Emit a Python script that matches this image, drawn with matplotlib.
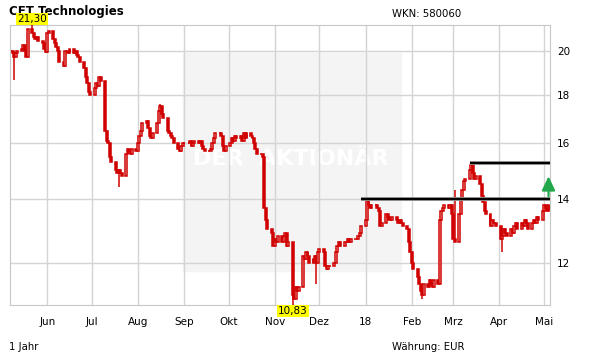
import matplotlib
matplotlib.use('Agg')
import matplotlib.pyplot as plt
import matplotlib.dates as mdates
from matplotlib.patches import Rectangle
from matplotlib.ticker import FixedLocator, NullLocator
import numpy as np
import pandas as pd

# daily closes, one row per week (Mon..Fri), 08.05.2017 - 04.05.2018
closes = [
    20.0, 19.9, 19.7, 19.9, 20.0,
    20.1, 20.3, 20.0, 19.7, 21.1,
    20.9, 20.7, 20.6, 20.7, 20.5,
    20.4, 20.1, 19.95, 20.9, 21.0,
    20.6, 20.4, 20.2, 20.0, 19.5,
    19.3, 20.0, 20.0, 19.9, 20.1,
    19.9, 20.0, 19.8, 19.7, 19.5,
    19.2, 18.8, 18.5, 18.1, 18.0,
    18.3, 18.5, 18.4, 18.8, 18.6,
    16.5, 16.1, 16.0, 15.5, 15.3,
    15.0, 14.9, 15.0, 14.9, 14.8,
    15.6, 15.8, 15.7, 15.6, 15.8,
    15.7, 16.0, 16.3, 16.5, 16.8,
    16.9, 16.6, 16.3, 16.2, 16.4,
    16.8, 17.3, 17.5, 17.2, 17.0,
    16.5, 16.4, 16.3, 16.2, 16.0,
    15.8, 15.7, 15.9, 16.0, 16.0,
    16.0, 16.1, 15.9, 16.0, 16.1,
    16.0, 16.1, 15.9, 15.8, 15.7,
    15.7, 15.8, 16.0, 16.2, 16.4,
    16.4, 16.3, 15.9, 15.7, 15.9,
    16.0, 16.2, 16.1, 16.3, 16.2,
    16.3, 16.1, 16.4, 16.2, 16.4,
    16.3, 16.2, 16.0, 15.8, 15.6,
    15.6, 15.5, 13.7, 13.3, 13.0,
    12.9, 12.5, 12.7, 12.6, 12.8,
    12.6, 12.8, 12.9, 12.5, 12.6,
    11.1, 11.0, 11.3, 11.2, 11.3,
    12.2, 12.1, 12.3, 12.2, 12.0,
    12.1, 12.2, 12.0, 12.3, 12.4,
    12.3, 11.9, 11.8, 11.9, 11.9,
    12.0, 12.3, 12.5, 12.6, 12.5,
    12.6, 12.6, 12.7, 12.6, 12.7,
    12.7, 12.7, 12.8, 12.9, 13.1,
    13.3, 14.0, 13.8, 13.7, 13.8,
    13.8, 13.7, 13.6, 13.1, 13.2,
    13.5, 13.4, 13.3, 13.3, 13.4,
    13.3, 13.2, 13.3, 13.2, 13.1,
    13.0, 12.6, 12.3, 12.0, 11.8,
    11.6, 11.4, 11.2, 11.1, 11.4,
    11.3, 11.5, 11.4, 11.3, 11.5,
    11.4, 13.3, 13.6, 13.7, 13.8,
    13.7, 13.8, 13.5, 12.7, 12.6,
    13.5, 14.0, 14.3, 14.6, 14.7,
    15.0, 15.2, 14.9, 14.7, 14.8,
    14.5, 14.1, 13.9, 13.6, 13.5,
    13.1, 13.3, 13.2, 13.2, 13.1,
    12.7, 12.8, 13.0, 12.9, 12.8,
    13.0, 12.9, 13.1, 13.2, 13.0,
    13.2, 13.1, 13.3, 13.2, 13.0,
    13.2, 13.3, 13.2, 13.4, 13.3,
    13.6, 13.8, 13.7, 13.6, 13.8,
]
dates = pd.bdate_range('2017-05-08', '2018-05-04')

# long wicks (date: (low, high))
wicks = {
    '2017-05-10': (18.65, None),
    '2017-05-22': (None, 21.30),
    '2017-07-19': (14.4, None),
    '2017-08-16': (None, 17.6),
    '2017-11-13': (10.83, None),
    '2017-11-29': (11.4, None),
    '2018-02-08': (11.0, None),
    '2018-02-20': (12.0, None),
    '2018-03-02': (None, 14.3),
    '2018-03-13': (None, 15.3),
    '2018-04-03': (12.3, None),
}

resist = [(14.0, '2017-12-29'), (15.25, '2018-03-12')]
months = ['2017-06-01', '2017-07-01', '2017-08-01', '2017-09-01', '2017-10-01', '2017-11-01',
          '2017-12-01', '2018-01-01', '2018-02-01', '2018-03-01', '2018-04-01', '2018-05-01']
month_labels = ['Jun', 'Jul', 'Aug', 'Sep', 'Okt', 'Nov', 'Dez', '18', 'Feb', 'Mrz', 'Apr', 'Mai']
yticks = [12, 14, 16, 18, 20]

c = np.array(closes)
o = np.array([closes[0]] + closes[:-1])
hi = np.maximum(o, c)
lo = np.minimum(o, c)
for d, (l, h) in wicks.items():
    i = dates.get_loc(pd.Timestamp(d))
    if l is not None:
        lo[i] = l
    if h is not None:
        hi[i] = h

red = '#d00000'
fig = plt.figure(figsize=(6.11, 3.64), dpi=100)
ax = fig.add_axes([10/611, 59/364, 540/611, 280/364])

x = mdates.date2num(dates)
ax.add_patch(Rectangle((0.3204, 0.1214), 0.404, 0.7786, transform=ax.transAxes,
                       color='#f4f4f4', zorder=0.2))
ax.text(0.5204, 0.52, 'DER  AKTIONÄR', transform=ax.transAxes, color='white',
        fontsize=16, fontweight='bold', ha='center', va='center', zorder=0.3)

ax.vlines(x, lo, hi, color=red, lw=1.1, zorder=3)
up = c >= o
ax.bar(x, np.abs(c - o), bottom=np.minimum(o, c), width=1.3,
       color=np.where(up, 'white', red), edgecolor=red, linewidth=1.1, zorder=4)

ax.set_yscale('log')
ax.set_ylim(lo.min(), hi.max())
ax.set_xlim(mdates.date2num(pd.Timestamp('2017-05-07')), mdates.date2num(pd.Timestamp('2018-05-05')))

right = ax.get_xlim()[1]
for lvl, start in resist:
    s = mdates.date2num(pd.Timestamp(start))
    ax.plot([s, right], [lvl, lvl], color='#909090', lw=2.8, zorder=5, solid_capstyle='butt')
    ax.plot([s, right], [lvl, lvl], color='black', lw=1.5, zorder=6, solid_capstyle='butt')

ax.annotate('', xy=(x[-1], 14.78), xytext=(x[-1], 14.08),
            arrowprops=dict(arrowstyle='-|>,head_length=0.42,head_width=0.2', color='#22a84a',
                            lw=1.6, mutation_scale=20, shrinkA=0, shrinkB=0), zorder=7)

imax = int(np.argmax(hi))
imin = int(np.argmin(lo))
ax.annotate(f'{hi[imax]:.2f}'.replace('.', ','), xy=(x[imax], 1), xycoords=('data', 'axes fraction'),
            xytext=(0, 1), textcoords='offset points', ha='center', va='bottom', fontsize=7.5,
            bbox=dict(boxstyle='square,pad=0.1', fc='#ffff00', ec='none'), annotation_clip=False, zorder=8)
ax.annotate(f'{lo[imin]:.2f}'.replace('.', ','), xy=(x[imin], 0), xycoords=('data', 'axes fraction'),
            xytext=(0, -1), textcoords='offset points', ha='center', va='top', fontsize=7.5,
            bbox=dict(boxstyle='square,pad=0.1', fc='#ffff00', ec='none'), annotation_clip=False, zorder=8)

ax.set_axisbelow(True)
ax.grid(True, color='#d4d4d4', lw=1)
ax.xaxis.set_major_locator(FixedLocator(mdates.date2num(pd.to_datetime(months))))
ax.set_xticklabels(month_labels)
ax.yaxis.tick_right()
ax.yaxis.set_major_locator(FixedLocator(yticks))
ax.yaxis.set_minor_locator(NullLocator())
ax.set_yticklabels([str(t) for t in yticks])
ax.tick_params(axis='x', length=0, pad=8.5, labelsize=7.5)
ax.tick_params(axis='y', length=0, pad=5, labelsize=7.5)
for sp in ax.spines.values():
    sp.set_color('#c8c8c8')

fig.text(9/611, 1 - 12/364, 'CFT Technologies', fontsize=8.5, fontweight='bold', va='center', zorder=-1)
fig.text(392/611, 1 - 14/364, 'WKN: 580060', fontsize=7.3, va='center')
fig.text(9/611, 1 - 347/364, '1 Jahr', fontsize=7.3, va='center')
fig.text(392/611, 1 - 347/364, 'Währung: EUR', fontsize=7.3, va='center')

fig.savefig('out.png', dpi=100)
